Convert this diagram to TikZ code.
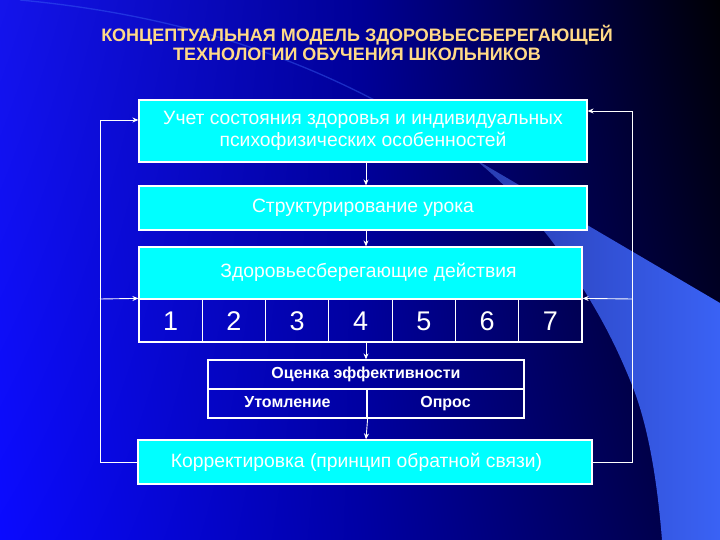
\documentclass[tikz,border=0pt]{standalone}
\usepackage{fontspec}
\setmainfont{Liberation Sans}
\usetikzlibrary{arrows.meta,shadings}
\definecolor{boxcyan}{RGB}{0,255,255}
\definecolor{titlecol}{RGB}{255,218,135}
\definecolor{swoosh}{RGB}{58,98,245}
\definecolor{swooshdark}{RGB}{40,60,175}
\definecolor{bgUL}{RGB}{20,20,235}
\definecolor{bgLL}{RGB}{10,10,255}
\definecolor{bgUM}{RGB}{0,0,150}
\definecolor{bgLM}{RGB}{0,0,165}
\definecolor{bgUR}{RGB}{0,0,5}
\definecolor{bgLR}{RGB}{0,0,60}
\tikzset{
  cbox/.style={draw=white, line width=1.2pt, fill=boxcyan, text=white, align=center, inner sep=0pt},
  obox/.style={draw=white, line width=1.2pt, text=white, align=center, inner sep=0pt},
  arr/.style={draw=white, line width=0.9pt, -{Stealth[length=6pt,width=5pt]}},
  numtxt/.style={font=\fontsize{27}{30}\selectfont, text height=19.4pt, text depth=0pt},
  btxt/.style={font=\fontsize{19.3}{22}\selectfont},
  etxt/.style={font=\bfseries\fontsize{16}{18}\selectfont, text height=11.5pt, text depth=3.5pt},
}
\begin{document}
\begin{tikzpicture}[x=1pt,y=-1pt]
\useasboundingbox (0,0) rectangle (720,540);
% background
\shade[upper left=bgUL, lower left=bgLL, upper right=bgUM, lower right=bgLM]
  (0,0) rectangle (361,540);
\shade[upper left=bgUM, lower left=bgLM, upper right=bgUR, lower right=bgLR]
  (360,0) rectangle (720,540);
% swoosh
\draw[swoosh, opacity=0.45, line width=1.3pt] (20,0) .. controls (180,15) and (330,60) .. (473,160);
\shade[left color=swooshdark, right color=swoosh] (473,158) -- (720,303) -- (720,540) -- (662,540)
   .. controls (658,490) and (650,430) .. (632,385)
   .. controls (618,350) and (605,325) .. (590,300)
   .. controls (575,275) and (560,250) .. (543,230)
   .. controls (520,200) and (495,175) .. (473,158) -- cycle;
% boxes
\node[cbox, btxt, minimum width=448pt, minimum height=62pt] (b1) at (363,131)
  {\raisebox{-2pt}{Учет состояния здоровья и индивидуальных}\\\raisebox{-2pt}{психофизических особенностей}};
\node[cbox, btxt, minimum width=448pt, minimum height=44pt] (b2) at (363,208)
  {\raisebox{-2pt}{Структурирование урока}};
\node[cbox, btxt, minimum width=443pt, minimum height=52pt] (b3) at (360.5,273)
  {\hspace*{16pt}\raisebox{5pt}{Здоровьесберегающие действия}};
\foreach \i in {1,...,7}{
  \node[obox, numtxt, minimum width=63.29pt, minimum height=43pt] (n\i) at ({139+63.29*(\i-0.5)},320.5) {\i};
}
\node[obox, etxt, minimum width=316pt, minimum height=29pt] (ev) at (366,374.5)
  {Оценка эффективности};
\node[obox, etxt, minimum width=159pt, minimum height=29pt] (ut) at (287.5,403.5)
  {Утомление};
\node[obox, etxt, minimum width=157pt, minimum height=29pt] (op) at (445.5,403.5)
  {Опрос};
\node[cbox, btxt, minimum width=454pt, minimum height=44pt] (kor) at (365,462)
  {\hspace*{-17pt}\raisebox{-7pt}{Корректировка (принцип обратной связи)}};
% title
\node[text=titlecol, align=center, font=\bfseries\fontsize{18}{19.5}\selectfont] (title) at (357,43)
  {КОНЦЕПТУАЛЬНАЯ МОДЕЛЬ ЗДОРОВЬЕСБЕРЕГАЮЩЕЙ\\ТЕХНОЛОГИИ ОБУЧЕНИЯ ШКОЛЬНИКОВ};
% connectors
\coordinate (mx) at (366,0);
\coordinate (ltop) at (100,120);
\coordinate (rtop) at (632,111);
\coordinate (lmid) at (100,299);
\coordinate (rmid) at (632,299);
\draw[arr] (b1.south -| mx) -- (b2.north -| mx);
\draw[arr] (b2.south -| mx) -- (b3.north -| mx);
\draw[arr] (n4.south -| mx) -- (ev.north -| mx);
\draw[arr] (ut.south east) -- (kor.north -| mx);
\draw[arr] (kor.west) -| (ltop) -- (b1.west |- ltop);
\draw[arr] (kor.east) -| (rtop) -- (b1.east |- rtop);
\draw[arr] (lmid) -- (n1.north west);
\draw[arr] (rmid) -- (n7.north east);
\end{tikzpicture}
\end{document}
